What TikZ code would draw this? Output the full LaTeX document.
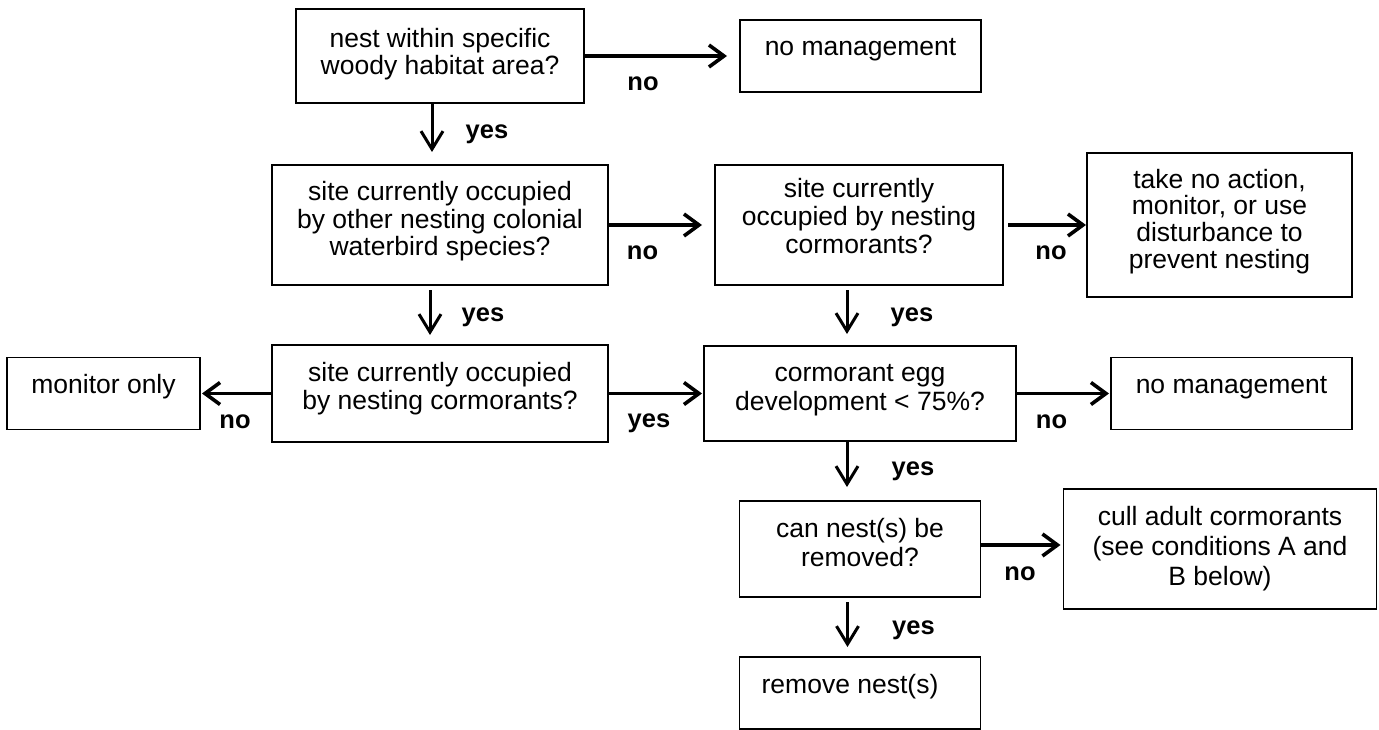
\documentclass[tikz,border=0pt]{standalone}
\usepackage{fontspec}
\setmainfont{Liberation Sans}
\usetikzlibrary{arrows.meta,positioning}

\tikzset{
  box/.style={draw,line width=1.8pt,inner sep=0pt,outer sep=0pt},
  lskip/.style={font=\fontsize{26.5pt}{#1pt}\selectfont},
  answer/.style={font=\fontsize{25.5pt}{28pt}\selectfont\bfseries,inner sep=0pt,anchor=base},
  flow/.style={-{Straight Barb[length=15pt,width=22pt]},line width=3.6pt},
  down/.style={-{Straight Barb[length=18pt,width=22pt]},line width=3pt},
}
% lines of a box, with extra room under the last one
\newcommand{\boxtext}[2][0pt]{\begin{tabular}{@{}c@{}}#2\\[#1]\end{tabular}}

\begin{document}
\begin{tikzpicture}[x=1pt,y=1pt]
  \useasboundingbox (0,0) rectangle (1379,-730);

  % questions and outcomes
  \node[box,lskip=25,minimum width=288pt,minimum height=94pt] (nest) at (440,-56)
    {\boxtext[2pt]{nest within specific\\woody habitat area?}};
  \node[box,lskip=28,minimum width=241pt,minimum height=72pt,right=156pt of nest] (nomgmt)
    {\boxtext[13pt]{no management}};
  \node[box,lskip=27,minimum width=336pt,minimum height=120pt,below=62pt of nest] (other)
    {\boxtext[5pt]{site currently occupied\\by other nesting colonial\\waterbird species?}};
  \node[box,lskip=28,minimum width=288pt,minimum height=120pt,right=107pt of other] (occ)
    {\boxtext[10pt]{site currently\\occupied by nesting\\cormorants?}};
  \node[box,lskip=25,minimum width=265pt,minimum height=144pt,right=84pt of occ] (noact)
    {\boxtext[5pt]{take no action,\\monitor, or use\\disturbance to\\prevent nesting}};
  \node[box,lskip=28.5,minimum width=336pt,minimum height=97pt,below=60pt of other] (occb)
    {\boxtext[7pt]{site currently occupied\\by nesting cormorants?}};
  \node[box,lskip=28,minimum width=193pt,minimum height=72pt,left=72pt of occb] (monitor)
    {\boxtext[11pt]{monitor only}};
  \node[box,lskip=29,minimum width=312pt,minimum height=95pt,right=96pt of occb] (egg)
    {\boxtext[6pt]{cormorant egg\\development < 75\%?}};
  \node[box,lskip=28,minimum width=241pt,minimum height=72pt,right=95pt of egg] (nomgmtb)
    {\boxtext[11pt]{no management}};
  \node[box,lskip=29,minimum width=241pt,minimum height=96pt,below=60pt of egg] (canrm)
    {\boxtext[6pt]{can nest(s) be\\removed?}};
  \node[box,lskip=30,minimum width=313pt,minimum height=120pt,right=83pt of canrm] (cull)
    {\boxtext[0pt]{cull adult cormorants\\(see conditions A and\\B below)}};
  \node[box,lskip=28,minimum width=241pt,minimum height=72pt,below=60pt of canrm] (remove)
    {\boxtext[11pt]{remove nest(s)\kern20pt}};

  % answers across
  \draw[flow,shorten >=13pt] (nest.east) -- (nest.east -| nomgmt.west)
    node[answer,midway,xshift=-19pt,yshift=-35pt] {no};
  \draw[flow,shorten >=13pt] (other.east) -- (occ.west)
    node[answer,midway,xshift=-19pt,yshift=-35pt] {no};
  \draw[flow,shorten <=5pt,shorten >=1pt] (occ.east) -- (noact.west)
    node[answer,midway,xshift=6pt,yshift=-35pt] {no};
  \draw[flow,shorten >=2pt] (occb.west) -- (monitor.east)
    node[answer,midway,xshift=-1pt,yshift=-35pt] {no};
  \draw[flow,shorten >=2pt] (occb.east) -- (egg.west)
    node[answer,midway,xshift=-7pt,yshift=-34pt] {yes};
  \draw[flow,shorten >=2pt] (egg.east) -- (egg.east -| nomgmtb.west)
    node[answer,midway,xshift=-12pt,yshift=-35pt] {no};
  \draw[flow,shorten >=3pt] ([yshift=4pt]canrm.east) -- ([yshift=4pt]canrm.east -| cull.west)
    node[answer,midway,xshift=-2pt,yshift=-35pt] {no};

  % answers down
  \draw[down,shorten >=13pt] ([xshift=-8pt]nest.south) -- ([xshift=-8pt]nest.south |- other.north)
    node[answer,midway,xshift=55pt,yshift=-5pt] {yes};
  \draw[down,shorten <=5pt,shorten >=10pt] ([xshift=-10pt]other.south) -- ([xshift=-10pt]other.south |- occb.north)
    node[answer,midway,xshift=53pt,yshift=-6pt] {yes};
  \draw[down,shorten <=5pt,shorten >=12pt] ([xshift=-12pt]occ.south) -- ([xshift=-12pt]occ.south |- egg.north)
    node[answer,midway,xshift=65pt,yshift=-6pt] {yes};
  \draw[down,shorten >=14pt] ([xshift=-13pt]egg.south) -- ([xshift=-13pt]egg.south |- canrm.north)
    node[answer,midway,xshift=66pt,yshift=-4pt] {yes};
  \draw[down,shorten <=5pt,shorten >=10pt] ([xshift=-12.5pt]canrm.south) -- ([xshift=-12.5pt]canrm.south |- remove.north)
    node[answer,midway,xshift=66pt,yshift=-7pt] {yes};
\end{tikzpicture}
\end{document}
